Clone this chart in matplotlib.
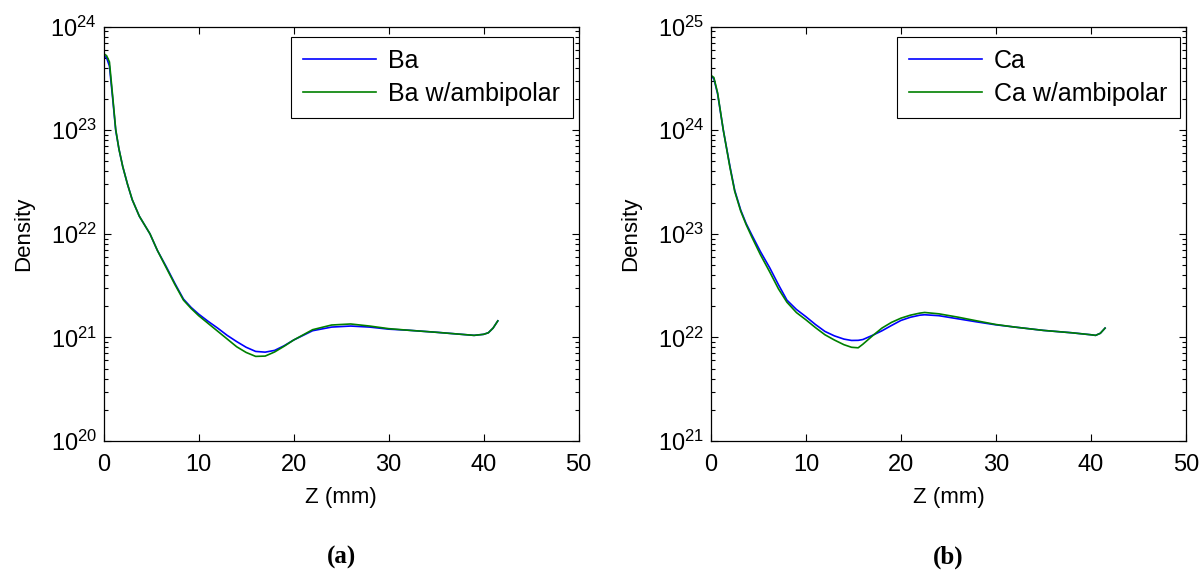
import matplotlib
matplotlib.use("Agg")
import matplotlib.pyplot as plt
import numpy as np
from matplotlib.ticker import LogLocator, FixedLocator, NullFormatter

plt.rcParams['font.family'] = ['Liberation Sans', 'DejaVu Sans']
plt.rcParams['mathtext.fontset'] = 'custom'
plt.rcParams['mathtext.rm'] = 'Liberation Sans'
plt.rcParams['mathtext.it'] = 'Liberation Sans'

# ---- Panel (a): Ba (log10 density vs Z in mm) ----
ba_z = [0, 0.3, 0.6, 0.95, 1.26, 1.6, 2.0, 2.5, 3.0, 3.75, 4.87, 5.65, 6.6, 7.5, 8.4, 9.2, 10, 11, 12, 13, 14, 15, 16, 17, 18, 19, 20, 22, 24, 26, 28, 30, 32, 35, 37, 39, 40, 40.5, 41, 41.5]
ba_log = [23.72, 23.70, 23.62, 23.30, 23.00, 22.82, 22.65, 22.48, 22.33, 22.17, 22.00, 21.84, 21.68, 21.52, 21.37, 21.29, 21.225, 21.155, 21.09, 21.02, 20.96, 20.905, 20.865, 20.858, 20.875, 20.92, 20.975, 21.065, 21.10, 21.11, 21.10, 21.08, 21.07, 21.05, 21.035, 21.02, 21.03, 21.045, 21.09, 21.16]
ba_amb_log = [23.74, 23.72, 23.66, 23.32, 23.01, 22.82, 22.65, 22.48, 22.33, 22.17, 22.00, 21.84, 21.67, 21.51, 21.36, 21.28, 21.21, 21.135, 21.06, 20.985, 20.91, 20.855, 20.817, 20.82, 20.86, 20.915, 20.975, 21.075, 21.12, 21.13, 21.11, 21.085, 21.07, 21.05, 21.035, 21.02, 21.03, 21.045, 21.09, 21.16]

# ---- Panel (b): Ca ----
ca_z = [0, 0.3, 0.7, 1.3, 2.0, 2.5, 3.13, 3.7, 4.3, 5.2, 6.2, 7.1, 8.0, 9.0, 10, 11, 12, 13, 14, 14.8, 15.5, 16, 17, 18, 19, 20, 21, 22, 22.5, 24, 26, 28, 30, 32, 35, 38, 40, 40.5, 41, 41.5]
ca_log = [24.52, 24.50, 24.35, 24.00, 23.65, 23.42, 23.23, 23.10, 22.99, 22.83, 22.67, 22.51, 22.36, 22.27, 22.20, 22.125, 22.058, 22.015, 21.984, 21.971, 21.972, 21.98, 22.02, 22.064, 22.115, 22.164, 22.195, 22.215, 22.219, 22.21, 22.18, 22.15, 22.122, 22.10, 22.068, 22.045, 22.026, 22.02, 22.04, 22.09]
ca_amb_log = [24.53, 24.51, 24.36, 24.00, 23.64, 23.41, 23.22, 23.09, 22.97, 22.80, 22.63, 22.47, 22.34, 22.24, 22.17, 22.095, 22.026, 21.975, 21.93, 21.905, 21.90, 21.935, 22.015, 22.09, 22.145, 22.186, 22.215, 22.235, 22.241, 22.228, 22.196, 22.16, 22.125, 22.10, 22.068, 22.045, 22.026, 22.02, 22.04, 22.09]

panels = [
    dict(z=ba_z, y1=ba_log, y2=ba_amb_log, labels=["Ba", "Ba w/ambipolar"], ylim=(20, 24), tag="(a)"),
    dict(z=ca_z, y1=ca_log, y2=ca_amb_log, labels=["Ca", "Ca w/ambipolar"], ylim=(21, 25), tag="(b)"),
]
xticks = [0, 10, 20, 30, 40, 50]

fig = plt.figure(figsize=(12.02, 5.79), dpi=100)
lefts = [0.0863, 0.5915]
for p, left in zip(panels, lefts):
    ax = fig.add_axes([left, 0.2383, 0.3950, 0.7156])
    ax.plot(p['z'], 10.0 ** np.array(p['y1']), color='#0000ff', lw=1.2, label=p['labels'][0])
    ax.plot(p['z'], 10.0 ** np.array(p['y2']), color='#008000', lw=1.2, label=p['labels'][1])
    ax.set_yscale('log')
    ax.set_xlim(0, 50)
    ax.set_ylim(10.0 ** p['ylim'][0], 10.0 ** p['ylim'][1])
    ax.xaxis.set_major_locator(FixedLocator(xticks))
    ax.yaxis.set_major_locator(LogLocator(base=10, numticks=10))
    ax.yaxis.set_minor_locator(LogLocator(base=10, subs=np.arange(2, 10), numticks=20))
    ax.yaxis.set_minor_formatter(NullFormatter())
    ax.tick_params(which='both', direction='in', top=True, right=True, labelsize=17)
    ax.tick_params(which='major', length=5, width=0.8)
    ax.tick_params(which='minor', length=3, width=0.8)
    ax.tick_params(axis='x', pad=9)
    ax.tick_params(axis='y', pad=5)
    for s in ax.spines.values():
        s.set_linewidth(0.9)
    ax.set_xlabel('Z (mm)', fontsize=16, labelpad=8)
    ax.set_ylabel('Density', fontsize=16, labelpad=12)
    leg = ax.legend(loc='upper right', bbox_to_anchor=(0.988, 0.976), borderaxespad=0, fontsize=18,
                    fancybox=False, edgecolor='black', framealpha=1,
                    handlelength=2.9, borderpad=0.5, labelspacing=0.35, handletextpad=0.5)
    leg.get_frame().set_linewidth(0.8)
    ax.text(0.5, -0.28, p['tag'], transform=ax.transAxes, ha='center', va='center',
            fontsize=18, fontweight='bold', family='Liberation Serif')

fig.savefig('out.png', dpi=100)
